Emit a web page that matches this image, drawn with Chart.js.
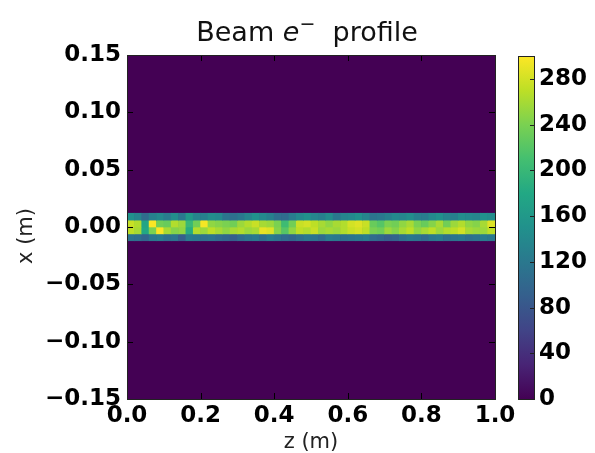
<!DOCTYPE html>
<html>
<head>
<meta charset="utf-8">
<script src="https://cdn.jsdelivr.net/npm/chart.js@4/dist/chart.umd.min.js"></script>
<style>
  body { margin: 0; background: #fff; }
  #wrap { position: relative; width: 595px; height: 453px; }
  #main { position: absolute; left: 0; top: 0; }
  #cbar { position: absolute; left: 500px; top: 0; }
</style>
</head>
<body>
<div id="wrap">
  <canvas id="main" width="595" height="453"></canvas>
  <canvas id="cbar" width="95" height="453"></canvas>
</div>
<script>
// z bin centres (m)
const zBins = [0.01, 0.03, 0.05, 0.07, 0.09, 0.11, 0.13, 0.15, 0.17, 0.19,
               0.21, 0.23, 0.25, 0.27, 0.29, 0.31, 0.33, 0.35, 0.37, 0.39,
               0.41, 0.43, 0.45, 0.47, 0.49, 0.51, 0.53, 0.55, 0.57, 0.59,
               0.61, 0.63, 0.65, 0.67, 0.69, 0.71, 0.73, 0.75, 0.77, 0.79,
               0.81, 0.83, 0.85, 0.87, 0.89, 0.91, 0.93, 0.95, 0.97, 0.99];

// x bin ranges (m), top to bottom
const xRows = [[0.006, 0.012], [0, 0.006], [-0.006, 0], [-0.012, -0.006]];

// counts per bin
const rowTop = [150,135,105,130,140,125,145,120,160,135,130,145,140,115,110,120,135,150,140,130,
                110,105,125,140,150,135,130,145,120,135,140,150,135,115,120,130,140,135,145,130,
                125,140,150,135,130,145,140,135,150,145];
const rowUpper = [275,265,175,298,235,230,265,255,200,235,296,250,245,240,235,255,265,275,260,255,
                  240,205,235,275,280,270,260,250,260,265,280,285,275,230,220,240,235,250,260,240,
                  230,245,260,235,255,265,250,245,260,285];
const rowLower = [270,260,180,240,298,260,245,250,185,265,255,270,260,250,260,265,255,260,290,285,
                  245,220,250,270,265,275,255,260,255,265,275,280,270,240,235,255,245,260,270,250,
                  260,270,255,265,270,280,260,255,255,270];
const rowBottom = [115,110,100,120,125,110,115,90,125,120,110,115,105,100,90,105,115,120,110,125,
                   115,105,100,110,120,115,105,125,120,110,115,120,125,105,100,90,95,110,120,115,
                   105,120,125,110,115,120,110,115,125,120];

const yTicks = [-0.15, -0.10, -0.05, 0, 0.05, 0.10, 0.15];
const yLabels = ['\u22120.15', '\u22120.10', '\u22120.05', '0.00', '0.05', '0.10', '0.15'];
const zTicks = [0, 0.2, 0.4, 0.6, 0.8, 1.0];
const zLabels = ['0.0', '0.2', '0.4', '0.6', '0.8', '1.0'];
const cbTicks = [0, 40, 80, 120, 160, 200, 240, 280];
const vMax = 300;

const viridisStops = ['#440154', '#482475', '#414487', '#355f8d', '#2a788e', '#21918c',
                      '#22a884', '#44bf70', '#7ad151', '#bddf26', '#fde725'];

function hexRgb(h) {
    return [parseInt(h.slice(1, 3), 16), parseInt(h.slice(3, 5), 16), parseInt(h.slice(5, 7), 16)];
}

function viridis(v) {
    let t = Math.max(0, Math.min(1, v / vMax)) * (viridisStops.length - 1);
    const i = Math.min(Math.floor(t), viridisStops.length - 2);
    const f = t - i;
    const a = hexRgb(viridisStops[i]), b = hexRgb(viridisStops[i + 1]);
    const c = a.map((x, k) => Math.round(x + (b[k] - x) * f));
    return `rgb(${c[0]},${c[1]},${c[2]})`;
}

const FONT = '"DejaVu Sans", sans-serif';
const TICK_FONT = {family: FONT, size: 23, weight: 'bold'};

// purple background, frame, inward ticks and y label
const framePlugin = {
    id: 'frame',
    beforeDatasetsDraw(chart) {
        const {ctx, chartArea: a} = chart;
        ctx.save();
        ctx.fillStyle = viridis(0);
        ctx.fillRect(a.left, a.top, a.right - a.left, a.bottom - a.top);
        ctx.restore();
    },
    afterDatasetsDraw(chart) {
        const {ctx, chartArea: a, scales} = chart;
        ctx.save();
        ctx.strokeStyle = '#000';
        ctx.lineWidth = 1;
        ctx.beginPath();
        zTicks.forEach(v => {
            const px = Math.round(scales.x.getPixelForValue(v)) + 0.5;
            ctx.moveTo(px, a.bottom); ctx.lineTo(px, a.bottom - 6);
            ctx.moveTo(px, a.top); ctx.lineTo(px, a.top + 6);
        });
        yTicks.forEach(v => {
            const py = Math.round(scales.y.getPixelForValue(v)) + 0.5;
            ctx.moveTo(a.left, py); ctx.lineTo(a.left + 6, py);
            ctx.moveTo(a.right, py); ctx.lineTo(a.right - 6, py);
        });
        ctx.stroke();
        ctx.strokeStyle = '#222';
        ctx.strokeRect(Math.round(a.left) + 0.5, Math.round(a.top) + 0.5,
                       Math.round(a.right - a.left), Math.round(a.bottom - a.top));

        // y axis label, a bit below the axis centre as in the original
        ctx.translate(27, (a.top + a.bottom) / 2 + 9);
        ctx.rotate(-Math.PI / 2);
        ctx.font = '21px ' + FONT;
        ctx.fillStyle = '#222';
        ctx.textAlign = 'center';
        ctx.textBaseline = 'middle';
        ctx.fillText('x (m)', 0, 0);
        ctx.restore();
    }
};

// title with math-style e^-
const titlePlugin = {
    id: 'mathTitle',
    afterDraw(chart) {
        const {ctx, chartArea: a} = chart;
        const parts = [
            {t: 'Beam ', f: '27px ' + FONT, dy: 0},
            {t: 'e', f: 'italic 27px ' + FONT, dy: 0},
            {t: '\u2212', f: '19px ' + FONT, dy: -11},
            {t: '  profile', f: '27px ' + FONT, dy: 0}
        ];
        ctx.save();
        ctx.fillStyle = '#111';
        ctx.textBaseline = 'alphabetic';
        let w = 0;
        parts.forEach(p => { ctx.font = p.f; p.w = ctx.measureText(p.t).width; w += p.w; });
        let x = (a.left + a.right) / 2 - w / 2 - 4;
        parts.forEach(p => {
            ctx.font = p.f;
            ctx.fillText(p.t, x, 41 + p.dy);
            x += p.w;
        });
        ctx.restore();
    }
};

function rowDataset(vals, range) {
    return {
        data: zBins.map(z => ({x: z, y: range})),
        backgroundColor: vals.map(viridis),
        borderWidth: 0,
        grouped: false,
        barPercentage: 1,
        categoryPercentage: 1
    };
}

new Chart(document.getElementById('main'), {
    type: 'bar',
    data: {
        datasets: [
            rowDataset(rowTop, xRows[0]),
            rowDataset(rowUpper, xRows[1]),
            rowDataset(rowLower, xRows[2]),
            rowDataset(rowBottom, xRows[3])
        ]
    },
    options: {
        responsive: false,
        animation: false,
        events: [],
        layout: {padding: {top: 55, right: 100, left: 0, bottom: 0}},
        plugins: {legend: {display: false}, tooltip: {enabled: false}, title: {display: false}},
        scales: {
            x: {
                type: 'linear',
                min: 0, max: 1,
                offset: false,
                grid: {display: false, drawTicks: false},
                border: {display: false},
                afterBuildTicks: s => { s.ticks = zTicks.map(v => ({value: v})); },
                afterFit: s => { s.height = 54; },
                ticks: {
                    color: '#000',
                    padding: 3,
                    maxRotation: 0,
                    autoSkip: false,
                    font: TICK_FONT,
                    callback: (v, i) => zLabels[i]
                },
                title: {display: true, text: 'z (m)', color: '#222',
                        font: {family: FONT, size: 21}, padding: {top: 0, bottom: -2}}
            },
            y: {
                type: 'linear',
                min: -0.15, max: 0.15,
                grid: {display: false, drawTicks: false},
                border: {display: false},
                afterBuildTicks: s => { s.ticks = yTicks.map(v => ({value: v})); },
                afterFit: s => { s.width = 127; },
                ticks: {
                    color: '#000',
                    padding: 6,
                    autoSkip: false,
                    font: TICK_FONT,
                    callback: (v, i) => yLabels[i]
                }
            }
        }
    },
    plugins: [framePlugin, titlePlugin]
});

// colour bar
const cbFrame = {
    id: 'cbFrame',
    afterDatasetsDraw(chart) {
        const {ctx, chartArea: a, scales} = chart;
        ctx.save();
        ctx.strokeStyle = '#222';
        ctx.lineWidth = 1;
        ctx.beginPath();
        cbTicks.forEach(v => {
            const py = Math.round(scales.y.getPixelForValue(v)) + 0.5;
            ctx.moveTo(a.right, py); ctx.lineTo(a.right - 4, py);
        });
        ctx.stroke();
        ctx.strokeRect(Math.round(a.left) + 0.5, Math.round(a.top) + 0.5,
                       Math.round(a.right - a.left), Math.round(a.bottom - a.top));
        ctx.restore();
    }
};

new Chart(document.getElementById('cbar'), {
    type: 'bar',
    data: {
        labels: ['cb'],
        datasets: [{
            data: [[0, vMax]],
            borderWidth: 0,
            barPercentage: 1,
            categoryPercentage: 1,
            backgroundColor: ctx => {
                const a = ctx.chart.chartArea;
                if (!a) return viridis(vMax / 2);
                const g = ctx.chart.ctx.createLinearGradient(0, a.bottom, 0, a.top);
                viridisStops.forEach((c, i) => g.addColorStop(i / (viridisStops.length - 1), c));
                return g;
            }
        }]
    },
    options: {
        responsive: false,
        animation: false,
        events: [],
        layout: {padding: {top: 56, left: 18, right: 0, bottom: 54}},
        plugins: {legend: {display: false}, tooltip: {enabled: false}},
        scales: {
            x: {display: false},
            y: {
                position: 'right',
                min: 0, max: vMax,
                grid: {display: false, drawTicks: false},
                border: {display: false},
                afterBuildTicks: s => { s.ticks = cbTicks.map(v => ({value: v})); },
                afterFit: s => { s.width = 61; },
                ticks: {
                    color: '#000',
                    padding: 5,
                    autoSkip: false,
                    font: TICK_FONT,
                    callback: v => String(v)
                }
            }
        }
    },
    plugins: [cbFrame]
});
</script>
</body>
</html>
